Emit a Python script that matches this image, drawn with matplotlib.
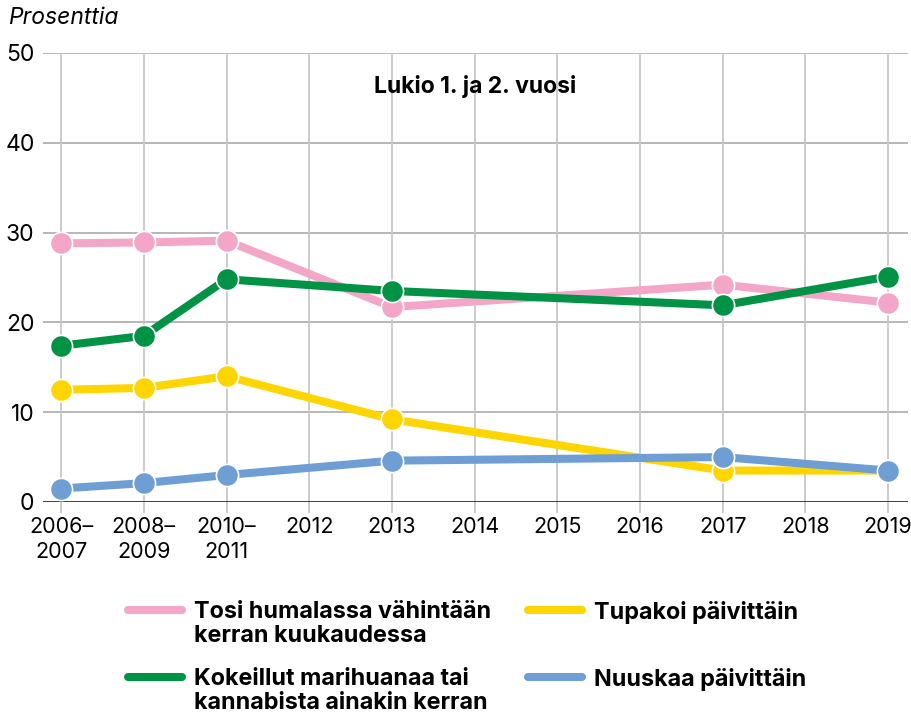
import matplotlib
matplotlib.use("Agg")
import matplotlib.pyplot as plt
from matplotlib.lines import Line2D

plt.rcParams['font.family'] = ['Inter', 'DejaVu Sans']

# categories on x axis (one slot per year)
periods = ["2006–\n2007", "2008–\n2009", "2010–\n2011", "2012", "2013", "2014",
           "2015", "2016", "2017", "2018", "2019"]
# survey rounds sit at these slots
survey_idx = [0, 1, 2, 4, 8, 10]

humala = [28.8, 28.9, 29.1, 21.7, 24.2, 22.2]
marihuana = [17.4, 18.5, 24.8, 23.5, 21.9, 25.1]
tupakka = [12.5, 12.7, 14.0, 9.2, 3.5, 3.5]
nuuska = [1.5, 2.1, 3.0, 4.6, 5.0, 3.5]

labels = ["Tosi humalassa vähintään\nkerran kuukaudessa",
          "Kokeillut marihuanaa tai\nkannabista ainakin kerran",
          "Tupakoi päivittäin",
          "Nuuskaa päivittäin"]
colors = ["#F4A6C8", "#009245", "#FFD500", "#6E9ED3"]
series = [humala, marihuana, tupakka, nuuska]

fig = plt.figure(figsize=(9.12, 7.17), dpi=100)
ax = fig.add_axes([0.0471, 0.2999, 0.9485, 0.6262])

for vals, c in zip(series, colors):
    ax.plot(survey_idx, vals, color=c, lw=5.8, marker="o", ms=16,
            mec="white", mew=1.2, solid_capstyle="butt", clip_on=False, zorder=3)

ax.set_xlim(-0.22, 10.24)
ax.set_ylim(0, 50)
ax.set_xticks(range(len(periods)))
ax.set_xticklabels(periods, fontsize=15.5, linespacing=1.3)
ax.set_yticks(range(0, 51, 10))
ax.set_yticklabels([str(v) for v in range(0, 51, 10)], fontsize=16.5)

for v in range(10, 51, 10):
    ax.axhline(v, color="#AAAAAA", lw=1.2, zorder=1)
ax.axhline(0, color="#1F3057", lw=2, zorder=2)
for i in range(len(periods)):
    ax.axvline(i, color="#C8C8C8", lw=1.3, zorder=1)

for s in ax.spines.values():
    s.set_visible(False)
ax.tick_params(axis="x", length=8, width=1.3, color="#C8C8C8", pad=3)
ax.tick_params(axis="y", length=0, pad=6)

ax.text(0.5, 0.95, "Lukio 1. ja 2. vuosi", transform=ax.transAxes,
        ha="center", va="top", fontsize=16.5, fontweight="bold")
fig.text(8 / 912, 1 - 18 / 717, "Prosenttia", ha="left", va="center",
         fontsize=16.5, style="italic")

# legend, drawn by hand in two columns
W, H = 912, 717
legend_pos = [(128, 610), (128, 677), (528, 610), (528, 677)]
for (px, py), lab, c in zip(legend_pos, labels, colors):
    fig.add_artist(Line2D([px / W, (px + 54) / W], [1 - py / H, 1 - py / H],
                          color=c, lw=5.8, solid_capstyle="round"))
    fig.text((px + 66) / W, 1 - (py - 9) / H, lab, ha="left", va="top",
             fontsize=16.8, fontweight="bold", linespacing=1.12)

fig.savefig("out.png", dpi=100)
